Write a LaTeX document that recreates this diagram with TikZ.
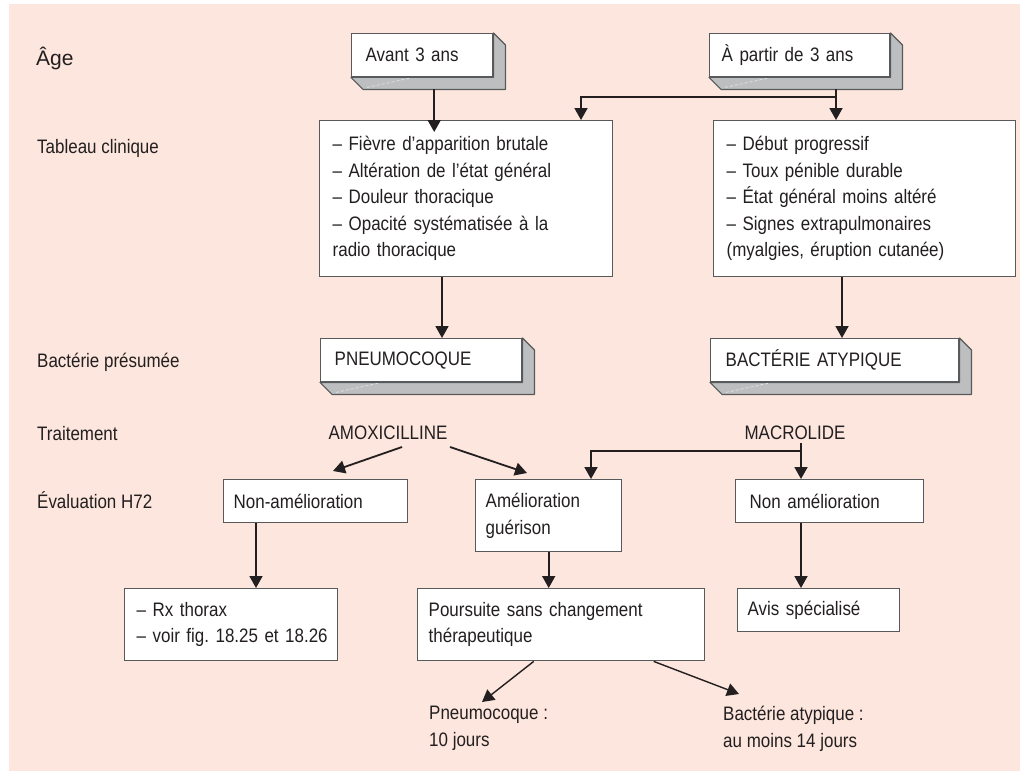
\documentclass[tikz,border=0pt]{standalone}
\usepackage{fontspec}
\setmainfont{Liberation Sans}
\newfontfamily\condfont{Liberation Sans}[FakeStretch=0.87]
\usetikzlibrary{arrows.meta}
\frenchspacing

\definecolor{bgpink}{RGB}{252,230,221}
\definecolor{ink}{RGB}{35,31,32}
\definecolor{edgegray}{RGB}{88,89,91}
\definecolor{depthgray}{RGB}{188,190,192}

\tikzset{
  every node/.style={text=ink, inner sep=0pt,
    font=\condfont\fontsize{19.5}{26.5}\selectfont},
  box/.style={draw=edgegray, line width=1.4pt, fill=white, anchor=north west,
    align=left, inner xsep=12pt, inner ysep=0pt},
  rowlabel/.style={anchor=base west},
  arr/.style={draw=ink, line width=1.8pt, -{Triangle[length=12pt,width=13pt]}},
  link/.style={draw=ink, line width=1.8pt},
}

% grey side and bottom faces of a raised box, with a faint light streak
\newcommand\drawslab[1]{%
  \filldraw[fill=depthgray, draw=edgegray, line width=1.2pt, line join=round]
    (#1.south west) -- ([shift={(12,12)}]#1.south west)
    -- ([shift={(12,12)}]#1.south east) -- ([shift={(12,12)}]#1.north east)
    -- (#1.north east) -- (#1.south east) -- cycle;
  \draw[white, opacity=0.7, line width=0.6pt, dash pattern=on 3pt off 2pt]
    ([shift={(16,10)}]#1.south west) -- ([shift={(58,1)}]#1.south west);}

\begin{document}
\begin{tikzpicture}[x=1pt, y=-1pt]
\useasboundingbox (0,0) rectangle (1020,776);
\fill[bgpink] (9,4) rectangle (1020,771);

% row labels
\node[rowlabel, font=\rmfamily\fontsize{21}{25}\selectfont] (lAge) at (36,66) {Âge};
\node[rowlabel] (lTab) at (37,153) {Tableau clinique};
\node[rowlabel] (lBact) at (37,367) {Bactérie présumée};
\node[rowlabel] (lTrait) at (37,440) {Traitement};
\node[rowlabel] (lEval) at (37,508) {Évaluation H72};

% age
\node[box, inner xsep=14pt, text width=113pt, minimum height=43pt] (avant) at (351,33) {Avant 3 ans};
\drawslab{avant}
\node[box, inner xsep=12pt, text width=156pt, minimum height=43pt] (apartir) at (709,33) {À partir de 3 ans};
\drawslab{apartir}

% clinical picture
\node[box, inner xsep=13pt, text width=267pt, minimum height=156pt] (clinA) at (319,120)
  {– Fièvre d’apparition brutale\\– Altération de l’état général\\– Douleur thoracique\\– Opacité systématisée à la\\radio thoracique};
\node[box, inner xsep=13pt, text width=276pt, minimum height=156pt] (clinB) at (713,120)
  {– Début progressif\\– Toux pénible durable\\– État général moins altéré\\– Signes extrapulmonaires\\(myalgies, éruption cutanée)};

% presumed bacteria
\node[box, inner xsep=14pt, text width=173pt, minimum height=43pt] (pneumo) at (320,338) {PNEUMOCOQUE};
\drawslab{pneumo}
\node[box, inner xsep=15pt, text width=218pt, minimum height=43pt] (atyp) at (710,338) {BACTÉRIE ATYPIQUE};
\drawslab{atyp}

% treatment
\node[anchor=base] (amox) at (388,439) {AMOXICILLINE};
\node[anchor=base] (macro) at (795,439) {MACROLIDE};

% evaluation at 72 h
\node[box, inner xsep=10pt, text width=164pt, minimum height=43pt] (nonamelA) at (223,479) {Non-amélioration};
\node[box, inner xsep=10pt, text width=126pt, minimum height=72pt] (amel) at (475,479) {Amélioration\\guérison};
\node[box, inner xsep=14pt, text width=160pt, minimum height=43pt] (nonamelB) at (735,479) {Non amélioration};

% follow-up
\node[box, inner xsep=12pt, text width=189pt, minimum height=72pt] (rx) at (124,588)
  {\mbox{– Rx thorax}\\\mbox{– voir fig. 18.25 et 18.26}};
\node[box, inner xsep=11pt, text width=265pt, minimum height=72pt] (poursuite) at (417,588) {Poursuite sans changement\\thérapeutique};
\node[box, inner xsep=10pt, text width=142pt, minimum height=43pt] (avis) at (737,588) {Avis spécialisé};

% duration
\node[anchor=north west, align=left] (dureeP) at (429,706) {Pneumocoque :\\10 jours};
\node[anchor=north west, align=left] (dureeA) at (723,706) {Bactérie atypique :\\au moins 14 jours};

% connectors
\draw[arr] ([shift={(12,12)}]avant.south) -- ([shift={(12,12)}]avant.south |- clinA.north);

\coordinate (split) at (836,97);
\coordinate (xL) at (581,0);
\coordinate (apb) at ([shift={(0,12)}]apartir.south);
\draw[link] (apb -| split) -- (split);
\draw[arr] (split) -- (split |- clinB.north);
\draw[arr] (split) -| (xL |- clinA.north);

\coordinate (xP) at (442,0);
\coordinate (xB) at (842,0);
\draw[arr] (clinA.south -| xP) -- (pneumo.north -| xP);
\draw[arr] (clinB.south -| xB) -- (atyp.north -| xB);

\coordinate (amL0) at (402,447);
\coordinate (amL1) at (333,471);
\coordinate (amR0) at (450,447);
\coordinate (amR1) at (527,473);
\draw[arr] (amL0) -- (amL1);
\draw[arr] (amR0) -- (amR1);

\coordinate (xM) at (801,0);
\coordinate (mj) at (801,451);
\coordinate (xG) at (591,0);
\draw[arr] ([yshift=-4pt]macro.south -| xM) -- (nonamelB.north -| xM);
\draw[arr] (mj) -| (xG |- amel.north);

\coordinate (xR) at (256,0);
\draw[arr] (nonamelA.south -| xR) -- (rx.north -| xR);
\draw[arr] (amel.south) -- (amel.south |- poursuite.north);
\draw[arr] (nonamelB.south -| xM) -- (avis.north -| xM);

\coordinate (dP) at (482,702);
\coordinate (dA) at (739,694);
\draw[arr, line width=1.4pt] ([xshift=-27.5pt]poursuite.south) -- (dP);
\draw[arr, line width=1.4pt] ([xshift=92.5pt]poursuite.south) -- (dA);
\end{tikzpicture}
\end{document}
